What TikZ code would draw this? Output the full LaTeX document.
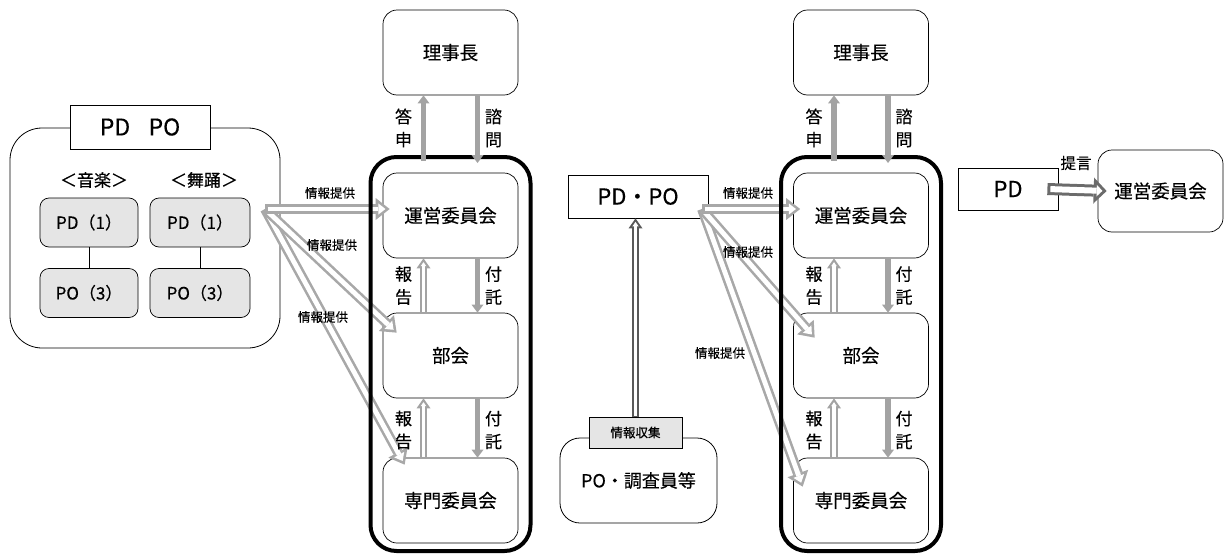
\documentclass[tikz,border=0pt]{standalone}
\usepackage{fontspec}
\setmainfont{Noto Sans CJK JP}[FakeBold=0.3]
\usetikzlibrary{arrows.meta}

\definecolor{infogrey}{gray}{0.66}
\definecolor{flowgrey}{gray}{0.64}
\definecolor{propgrey}{gray}{0.42}
\definecolor{collgrey}{gray}{0.35}
\definecolor{unitgrey}{gray}{0.9}

\begin{document}
\begin{tikzpicture}[x=1pt,y=-1pt,
		boardbox/.style = {draw, rounded corners=14pt, line width=0.7pt, minimum width=135pt, minimum height=85pt, font=\fontsize{18.5}{22}\selectfont},
		council/.style = {draw, line width=4pt, rounded corners=26pt, minimum width=160pt, minimum height=394pt},
		unitbox/.style = {draw, fill=unitgrey, rounded corners=9pt, line width=0.7pt, minimum height=49pt, font=\fontsize{17}{20}\selectfont},
		tagbox/.style = {draw, fill=white, line width=0.7pt, inner sep=0pt},
		vlabel/.style = {align=center, inner sep=0pt, font=\fontsize{17}{23}\selectfont},
		infolabel/.style = {inner sep=0pt, font=\fontsize{12.5}{15}\selectfont},
		flowarrow/.style = {draw=flowgrey, line width=5.5pt, -{Triangle[length=8pt,width=12pt,line width=0pt]}},
		infoarrow/.style = {draw=infogrey, line width=10pt, -{Triangle[length=14pt,width=22pt,line width=0pt]},
			postaction={draw=white, line width=4.8pt, shorten >=4.2pt, shorten <=2.6pt, -{Triangle[length=7.2pt,width=11.3pt,line width=0pt]}}},
		reportarrow/.style = {draw=flowgrey, line width=7.5pt, -{Triangle[length=10pt,width=14pt,line width=0pt]},
			postaction={draw=white, line width=3.1pt, shorten >=3.8pt, shorten <=1pt, -{Triangle[length=4pt,width=5.6pt,line width=0pt]}}},
		proparrow/.style = {draw=propgrey, line width=12pt, -{Triangle[length=13pt,width=26pt,line width=0pt]},
			postaction={draw=white, line width=6pt, shorten >=4.2pt, shorten <=3pt, -{Triangle[length=5.8pt,width=11.5pt,line width=0pt]}}},
		collarrow/.style = {draw=collgrey, line width=7pt, -{Triangle[length=10pt,width=14pt,line width=0pt]},
			postaction={draw=white, line width=3pt, shorten >=3.5pt, shorten <=1pt, -{Triangle[length=4.5pt,width=6.3pt,line width=0pt]}}}
	]
	\useasboundingbox (0,0) rectangle (1225,557);

	% PD / PO panel
	\node[draw, rounded corners=32pt, line width=0.8pt, minimum width=270pt, minimum height=220pt] (panel) at (145,238) {};
	\node[tagbox, minimum width=140pt, minimum height=44pt, font=\fontsize{23}{26}\selectfont] (pdpoTag) at (140,127) {PD\hspace{0.8em}PO};
	\node[font=\fontsize{17}{20}\selectfont] (music) at (94,180) {＜音楽＞};
	\node[font=\fontsize{17}{20}\selectfont] (dance) at (204,180) {＜舞踊＞};
	\node[unitbox, minimum width=98pt] (pdMusic) at (89,222.5) {PD（1）};
	\node[unitbox, minimum width=100pt] (pdDance) at (200,222.5) {PD（1）};
	\node[unitbox, minimum width=98pt] (poMusic) at (89,293) {PO（3）};
	\node[unitbox, minimum width=100pt] (poDance) at (200,293) {PO（3）};
	\draw[line width=1pt] (pdMusic) -- (poMusic);
	\draw[line width=1pt] (pdDance) -- (poDance);

	% both committee columns
	\foreach \s/\cx in {L/450.5, R/861}{
		\node[boardbox] (riji\s) at (\cx,52.5) {理事長};
		\node[boardbox] (unei\s) at (\cx,215.5) {運営委員会};
		\node[boardbox] (bukai\s) at (\cx,355.5) {部会};
		\node[boardbox] (senmon\s) at (\cx,500.5) {専門委員会};
	}

	% PD・PO and the survey staff
	\node[draw, line width=0.8pt, minimum width=140pt, minimum height=43pt, font=\fontsize{22}{26}\selectfont] (pdpo) at (638,196.5) {PD・PO};
	\node[draw, rounded corners=20pt, line width=0.8pt, minimum width=157pt, minimum height=85pt, font=\fontsize{18}{22}\selectfont] (survey) at (638.5,480.5) {PO・調査員等};
	\node[tagbox, fill=unitgrey, minimum width=93pt, minimum height=31pt, font=\fontsize{12.5}{15}\selectfont] (collect) at (635.5,432.5) {情報収集};
	\draw[collarrow] (collect) -- (collect |- pdpo.south);

	% information flow
	\coordinate (srcL) at (265,209);
	\draw[infoarrow] (srcL) -- ([xshift=22pt,yshift=-7pt]senmonL.north west);
	\draw[infoarrow] (srcL) -- ([xshift=14pt,yshift=-20pt]bukaiL.north west);
	\draw[infoarrow] (srcL) -- ([xshift=7pt]uneiL.west |- srcL);
	\coordinate (srcR) at (702,209);
	\draw[infoarrow] (srcR) -- ([xshift=9.5pt,yshift=-29pt]senmonR.north west);
	\draw[infoarrow] (srcR) -- ([xshift=21.5pt,yshift=-25pt]bukaiR.north west);
	\draw[infoarrow] (srcR) -- ([xshift=7pt]uneiR.west |- srcR);
	\node[infolabel] (infoL1) at (330,193) {情報提供};
	\node[infolabel] (infoL2) at (332,245) {情報提供};
	\node[infolabel] (infoL3) at (323,317) {情報提供};
	\node[infolabel] (infoR1) at (748,193) {情報提供};
	\node[infolabel] (infoR2) at (748,252) {情報提供};
	\node[infolabel] (infoR3) at (720,353) {情報提供};

	% frames, referrals and reports
	\foreach \s/\cx in {L/450.5, R/861}{
		\node[council] (frame\s) at (\cx,354) {};
		\draw[flowarrow] ([xshift=-27pt,yshift=-6pt]frame\s.north) -- ([xshift=-27pt]riji\s.south);
		\draw[flowarrow] ([xshift=27pt]riji\s.south) -- ([xshift=27pt,yshift=-8pt]frame\s.north);
		\draw[reportarrow] ([xshift=-27pt]bukai\s.north) -- ([xshift=-27pt]unei\s.south);
		\draw[flowarrow] ([xshift=27pt]unei\s.south) -- ([xshift=27pt]bukai\s.north);
		\draw[reportarrow] ([xshift=-27pt]senmon\s.north) -- ([xshift=-27pt]bukai\s.south);
		\draw[flowarrow] ([xshift=27pt]bukai\s.south) -- ([xshift=27pt]senmon\s.north);
		\node[vlabel] (answer\s) at (\cx-47,128) {答\\申};
		\node[vlabel] (consult\s) at (\cx+43,128) {諮\\問};
		\node[vlabel] (reportA\s) at (\cx-47,285.5) {報\\告};
		\node[vlabel] (referA\s) at (\cx+43,285.5) {付\\託};
		\node[vlabel] (reportB\s) at (\cx-47,430) {報\\告};
		\node[vlabel] (referB\s) at (\cx+43,430) {付\\託};
	}

	% proposal to the steering committee
	\node[draw, line width=0.8pt, minimum width=100pt, minimum height=42pt, font=\fontsize{22}{26}\selectfont] (pd) at (1008,189) {PD};
	\node[boardbox, minimum width=125pt, minimum height=82pt] (uneiX) at (1160.5,191) {運営委員会};
	\draw[proparrow] ([xshift=-11pt]pd.east) -- ([xshift=9pt]uneiX.west);
	\node[font=\fontsize{15.5}{18}\selectfont, inner sep=0pt] (proposal) at (1076,163) {提言};
\end{tikzpicture}
\end{document}
